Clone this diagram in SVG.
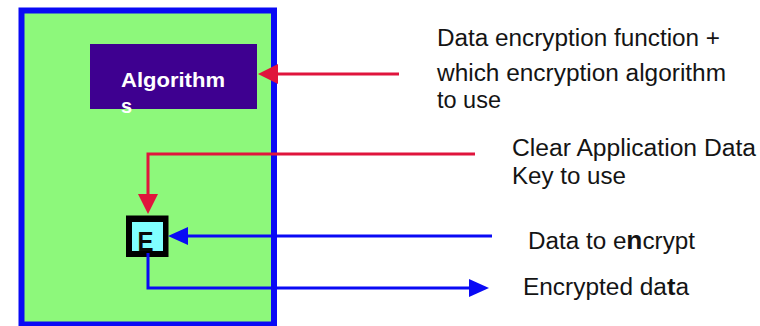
<svg xmlns="http://www.w3.org/2000/svg" width="760" height="326" viewBox="0 0 760 326">
  <style>
    .label { font-family: "Liberation Sans", Arial, sans-serif; font-size: 23px; fill: #141414; }
    .red { fill: none; stroke: #E0143C; stroke-width: 3; }
    .blue { fill: none; stroke: #0A0AF5; stroke-width: 3; }
  </style>
  <defs>
    <marker id="head-red" markerUnits="userSpaceOnUse" markerWidth="21" markerHeight="20" refX="0" refY="10" orient="auto" overflow="visible">
      <path d="M0,0 L20,10 L0,20 Z" fill="#E0143C"/>
    </marker>
    <marker id="head-blue" markerUnits="userSpaceOnUse" markerWidth="21" markerHeight="20" refX="0" refY="10" orient="auto" overflow="visible">
      <path d="M0,1 L20,10 L0,19 Z" fill="#0A0AF5"/>
    </marker>
  </defs>

  <rect width="760" height="326" fill="#FFFFFF"/>

  <!-- security module container -->
  <g id="module">
    <rect x="21.5" y="10.5" width="252.5" height="314" fill="#8DF87B" stroke="#0A0AF5" stroke-width="6"/>
  </g>

  <!-- algorithms block -->
  <g id="algorithms">
    <rect x="90" y="44" width="167" height="65" fill="#3E0090"/>
    <text x="121" y="87" font-family="Liberation Sans, Arial, sans-serif" font-size="20" font-weight="bold" fill="#FFFFFF" textLength="104" lengthAdjust="spacingAndGlyphs">Algorithm</text>
    <text x="121" y="113" font-family="Liberation Sans, Arial, sans-serif" font-size="20" font-weight="bold" fill="#FFFFFF">s</text>
  </g>

  <!-- encryption function E -->
  <g id="encrypt-e">
    <rect x="126" y="215.5" width="42.5" height="41.5" fill="#000000"/>
    <rect x="132" y="222" width="31" height="29" fill="#80FFFF"/>
    <text x="145.5" y="251" text-anchor="middle" font-family="Liberation Sans, Arial, sans-serif" font-size="28" font-weight="bold" fill="#0A0A0A" textLength="16" lengthAdjust="spacingAndGlyphs">E</text>
  </g>

  <!-- connectors -->
  <g id="connectors">
    <path class="red" d="M399,74 H278" marker-end="url(#head-red)"/>
    <path class="red" d="M475,154 H148 V194" marker-end="url(#head-red)"/>
    <path class="blue" d="M492,236 H188" marker-end="url(#head-blue)"/>
    <path class="blue" d="M148,253 V288 H469" marker-end="url(#head-blue)"/>
  </g>

  <!-- labels -->
  <g id="labels">
    <text class="label" x="437" y="46" textLength="283" lengthAdjust="spacingAndGlyphs">Data encryption function +</text>
    <text class="label" x="437" y="81" textLength="289" lengthAdjust="spacingAndGlyphs">which encryption algorithm</text>
    <text class="label" x="437" y="108" textLength="64" lengthAdjust="spacingAndGlyphs">to use</text>
    <text class="label" x="512" y="156" textLength="244" lengthAdjust="spacingAndGlyphs">Clear Application Data</text>
    <text class="label" x="512" y="184" textLength="114" lengthAdjust="spacingAndGlyphs">Key to use</text>
    <text class="label" x="528" y="249" textLength="167" lengthAdjust="spacingAndGlyphs">Data to e<tspan font-size="25" font-weight="bold">n</tspan>crypt</text>
    <text class="label" x="523" y="295" textLength="166" lengthAdjust="spacingAndGlyphs">Encrypted da<tspan font-size="24" font-weight="bold">t</tspan>a</text>
  </g>
</svg>
